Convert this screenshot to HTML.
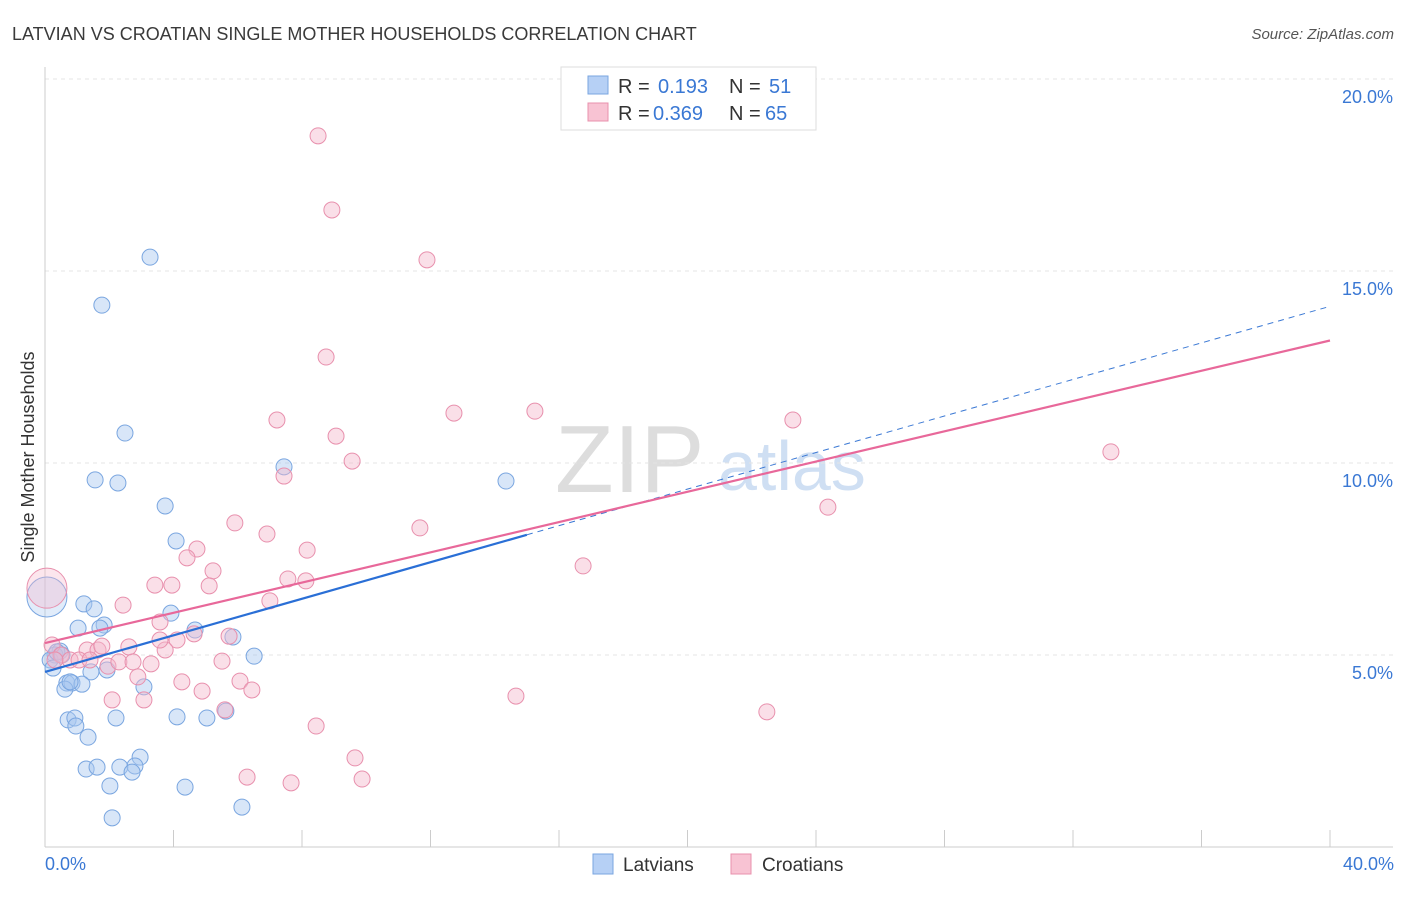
<!DOCTYPE html>
<html><head><meta charset="utf-8"><style>
body{margin:0;background:#fff;font-family:"Liberation Sans",sans-serif}
svg text{font-family:"Liberation Sans",sans-serif}
</style></head><body>
<svg id="chart" width="1406" height="892" xmlns="http://www.w3.org/2000/svg">
<text x="12" y="40" font-size="18" fill="#3a3a3a">LATVIAN VS CROATIAN SINGLE MOTHER HOUSEHOLDS CORRELATION CHART</text>
<text x="1394" y="39" font-size="15" fill="#555" text-anchor="end" font-style="italic">Source: ZipAtlas.com</text>
<text x="555" y="492" font-size="96" fill="#ddd" font-family="Liberation Serif">ZIP</text>
<text x="718" y="490" font-size="70" fill="#cfdff3">atlas</text>
<text transform="translate(34,457) rotate(-90)" font-size="18" fill="#333" text-anchor="middle">Single Mother Households</text>
<g id="grid"></g><g id="pts"></g><g id="lines"></g>
<g>
<rect x="561" y="67" width="255" height="63" fill="#fff" stroke="#ddd"/>
<rect x="588" y="76" width="20" height="18" fill="#b6d0f5" stroke="#7aa6e0"/>
<rect x="588" y="103" width="20" height="18" fill="#f8c3d3" stroke="#e890ad"/>
<text x="618" y="93" font-size="20" fill="#333">R =</text><text x="658" y="93" font-size="20" fill="#3a78d4">0.193</text>
<text x="729" y="93" font-size="20" fill="#333">N =</text><text x="769" y="93" font-size="20" fill="#3a78d4">51</text>
<text x="618" y="120" font-size="20" fill="#333">R =</text><text x="653" y="120" font-size="20" fill="#3a78d4">0.369</text>
<text x="729" y="120" font-size="20" fill="#333">N =</text><text x="765" y="120" font-size="20" fill="#3a78d4">65</text>
</g>
<g>
<rect x="593" y="854" width="20" height="20" fill="#b6d0f5" stroke="#7aa6e0"/>
<text x="623" y="871" font-size="19" fill="#333">Latvians</text>
<rect x="731" y="854" width="20" height="20" fill="#f8c3d3" stroke="#e890ad"/>
<text x="762" y="871" font-size="19" fill="#333">Croatians</text>
</g>
<text x="45" y="870" font-size="18" fill="#3a78d4">0.0%</text>
<text x="1394" y="870" font-size="18" fill="#3a78d4" text-anchor="end">40.0%</text>
</svg>
<script>
const yTicks=[5,10,15,20];
const latX=[3.27,1.77,2.49,1.56,2.27,3.74,4.08,7.44,14.35,1.21,1.53,3.92,1.84,1.03,1.71,4.67,5.85,6.51,0.47,0.31,0.16,0.25,1.93,1.43,0.68,0.84,1.15,0.62,3.08,2.21,4.11,5.04,5.63,0.72,0.93,0.96,1.34,2.96,2.80,1.28,1.62,2.33,2.71,2.02,4.36,6.13,2.09,0.06,0.37,0.53,0.78];
const latY=[15.36,14.11,10.78,9.56,9.48,8.88,7.97,9.90,9.53,6.33,6.20,6.09,5.78,5.70,5.70,5.65,5.47,4.97,5.10,5.00,4.87,4.66,4.61,4.56,4.27,4.27,4.24,4.11,4.17,3.36,3.39,3.36,3.54,3.31,3.36,3.15,2.86,2.34,2.11,2.03,2.08,2.08,1.95,1.59,1.56,1.04,0.76,6.51,5.08,5.00,4.30];
const croX=[8.50,8.93,11.89,8.75,7.22,12.73,15.25,23.28,9.06,9.56,7.44,33.18,5.91,6.91,11.67,24.37,4.73,8.16,4.42,5.23,16.75,7.56,8.12,3.42,3.95,5.11,2.43,7.00,3.58,4.11,5.73,4.64,2.61,0.22,1.31,1.65,1.77,0.50,0.78,1.06,1.96,2.30,2.74,3.30,5.51,2.89,4.26,6.07,6.44,4.89,2.09,3.08,14.66,5.60,22.47,8.44,9.65,6.29,9.87,7.66,0.06,1.40,3.74,3.58,0.31];
const croY=[18.52,16.59,15.29,12.76,11.12,11.30,11.35,11.12,10.70,10.05,9.66,10.29,8.44,8.15,8.31,8.85,7.76,7.73,7.53,7.19,7.32,6.98,6.93,6.82,6.82,6.80,6.30,6.41,5.86,5.39,5.49,5.55,5.21,5.26,5.13,5.13,5.23,5.00,4.87,4.87,4.71,4.82,4.82,4.77,4.84,4.43,4.30,4.32,4.09,4.06,3.83,3.83,3.93,3.57,3.52,3.15,2.32,1.82,1.77,1.67,6.74,4.87,5.13,5.39,4.87];
const latTrend=[4.56,0.238], croTrend=[5.31,0.197];
const NS='http://www.w3.org/2000/svg';
const X=v=>45+v*32.125, Y=v=>847-v*38.4;
function mk(tag,a,p){const e=document.createElementNS(NS,tag);for(const k in a)e.setAttribute(k,a[k]);p.appendChild(e);return e;}
const g=document.getElementById('grid');
yTicks.forEach(t=>{
 const l=mk('line',{x1:45,x2:1393,y1:Y(t),y2:Y(t),stroke:'#e4e4e4','stroke-dasharray':'4,4'},g);
 
 
 const tx=mk('text',{x:1393,y:Y(t)+24,'font-size':18,fill:'#3a78d4','text-anchor':'end'},g);
 tx.textContent=t.toFixed(1)+'%';
 
 
});
mk('line',{x1:45,x2:45,y1:67,y2:847,stroke:'#ccc'},g);
mk('line',{x1:45,x2:1393,y1:847,y2:847,stroke:'#ccc'},g);
for(let i=0;i<=10;i++){const t=mk('line',{x1:X(i*4),x2:X(i*4),y1:830,y2:847,stroke:'#ccc'},g);
 
 }
const p=document.getElementById('pts');
function pts(xs,ys,fill,stroke,name){xs.forEach((x,i)=>{const big=x<0.1;
 const c=mk('circle',{cx:X(x),cy:Y(ys[i]),r:big?20:8,fill:fill,'fill-opacity':big?0.35:0.45,stroke:stroke,'stroke-width':1},p);
 
 });}
pts(latX,latY,'#a9c8f0','#7aa6e0','latvian-point');
pts(croX,croY,'#f5b8cb','#e890ad','croatian-point');
const L=document.getElementById('lines');
const f=(t,x)=>t[0]+t[1]*x;
let e=mk('line',{x1:X(15),y1:Y(f(latTrend,15)),x2:X(40),y2:Y(f(latTrend,40)),stroke:'#3a78d4','stroke-width':1,'stroke-dasharray':'6,5'},L);


e=mk('line',{x1:X(0),y1:Y(f(croTrend,0)),x2:X(40),y2:Y(f(croTrend,40)),stroke:'#e8689a','stroke-width':2.2},L);


e=mk('line',{x1:X(0),y1:Y(f(latTrend,0)),x2:X(15),y2:Y(f(latTrend,15)),stroke:'#2a6fd6','stroke-width':2.2},L);


</script>
</body></html>
